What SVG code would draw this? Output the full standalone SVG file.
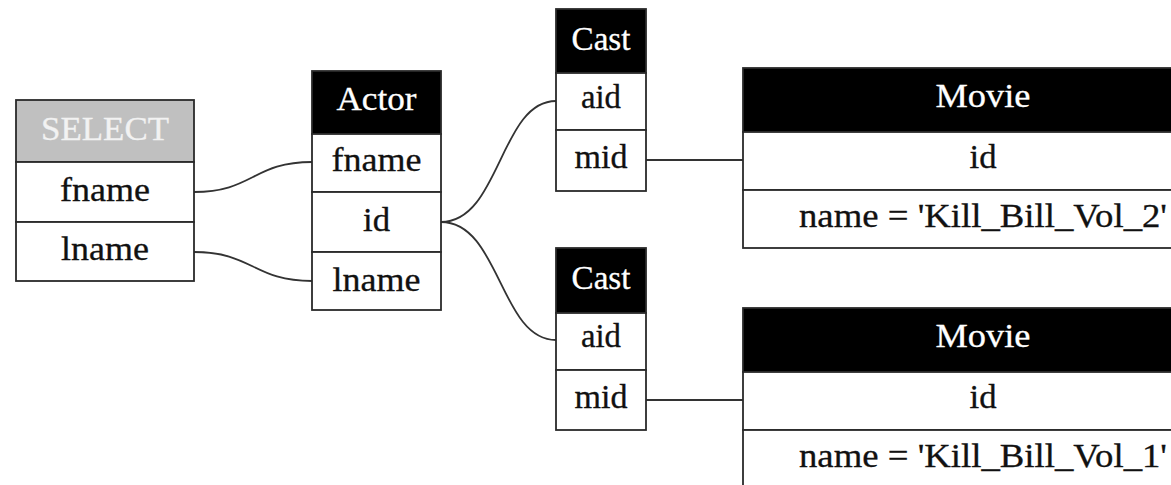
<svg xmlns="http://www.w3.org/2000/svg" width="1171" height="485" viewBox="0 0 1171 485">
<style>
rect{stroke:#2a2a2a;stroke-width:1.8}
.hd{fill:#000}
.hg{fill:#c0c0c0}
.row{fill:#fff}
text{font-family:"Liberation Serif","Times New Roman",serif;font-size:33px;text-anchor:middle;fill:#111;stroke:#111;stroke-width:0.3}
.ht{fill:#fff;stroke:#fff}
.hs{fill:#f2f2f2;stroke:#f2f2f2}
.e{fill:none;stroke:#333;stroke-width:1.8}
</style>
<rect width="1171" height="485" fill="#fff" style="stroke:none"/>
<g id="connectors">
<path class="e" d="M194,192 C253,192 253,162 312,162"/>
<path class="e" d="M194,252 C253,252 253,281 312,281"/>
<path class="e" d="M441,222 C500,222 500,101 556,101"/>
<path class="e" d="M441,222 C500,222 500,340 556,340"/>
<path class="e" d="M646,160 L743,160"/>
<path class="e" d="M646,400 L743,400"/>
</g>
<g id="select">
<rect class="hg" x="16" y="100" width="178" height="62"/>
<rect class="row" x="16" y="162" width="178" height="60"/>
<rect class="row" x="16" y="222" width="178" height="59"/>
<text class="hs" x="105" y="140" textLength="128" lengthAdjust="spacingAndGlyphs">SELECT</text>
<text x="105" y="201" textLength="90" lengthAdjust="spacingAndGlyphs">fname</text>
<text x="105" y="260" textLength="88" lengthAdjust="spacingAndGlyphs">lname</text>
</g>
<g id="actor">
<rect class="hd" x="312" y="71" width="129" height="63"/>
<rect class="row" x="312" y="134" width="129" height="58"/>
<rect class="row" x="312" y="192" width="129" height="60"/>
<rect class="row" x="312" y="252" width="129" height="58"/>
<text class="ht" x="376.5" y="110" textLength="80" lengthAdjust="spacingAndGlyphs">Actor</text>
<text x="376.5" y="171" textLength="90" lengthAdjust="spacingAndGlyphs">fname</text>
<text x="376.5" y="231" textLength="27" lengthAdjust="spacingAndGlyphs">id</text>
<text x="376.5" y="291" textLength="88" lengthAdjust="spacingAndGlyphs">lname</text>
</g>
<g id="cast1">
<rect class="hd" x="556" y="9" width="90" height="64"/>
<rect class="row" x="556" y="73" width="90" height="57"/>
<rect class="row" x="556" y="130" width="90" height="61"/>
<text class="ht" x="601" y="50" textLength="59" lengthAdjust="spacingAndGlyphs">Cast</text>
<text x="601" y="108" textLength="40" lengthAdjust="spacingAndGlyphs">aid</text>
<text x="601" y="168" textLength="53" lengthAdjust="spacingAndGlyphs">mid</text>
</g>
<g id="movie1">
<rect class="hd" x="743" y="68" width="480" height="64"/>
<rect class="row" x="743" y="132" width="480" height="58"/>
<rect class="row" x="743" y="190" width="480" height="58"/>
<text class="ht" x="983" y="107" textLength="95" lengthAdjust="spacingAndGlyphs">Movie</text>
<text x="983" y="168" textLength="27" lengthAdjust="spacingAndGlyphs">id</text>
<text x="983" y="227" textLength="368" lengthAdjust="spacingAndGlyphs">name = 'Kill_Bill_Vol_2'</text>
</g>
<g id="cast2">
<rect class="hd" x="556" y="248" width="90" height="65"/>
<rect class="row" x="556" y="313" width="90" height="57"/>
<rect class="row" x="556" y="370" width="90" height="60"/>
<text class="ht" x="601" y="289" textLength="59" lengthAdjust="spacingAndGlyphs">Cast</text>
<text x="601" y="347" textLength="40" lengthAdjust="spacingAndGlyphs">aid</text>
<text x="601" y="408" textLength="53" lengthAdjust="spacingAndGlyphs">mid</text>
</g>
<g id="movie2">
<rect class="hd" x="743" y="308" width="480" height="64"/>
<rect class="row" x="743" y="372" width="480" height="58"/>
<rect class="row" x="743" y="430" width="480" height="58"/>
<text class="ht" x="983" y="347" textLength="95" lengthAdjust="spacingAndGlyphs">Movie</text>
<text x="983" y="408" textLength="27" lengthAdjust="spacingAndGlyphs">id</text>
<text x="983" y="467" textLength="368" lengthAdjust="spacingAndGlyphs">name = 'Kill_Bill_Vol_1'</text>
</g>
</svg>
